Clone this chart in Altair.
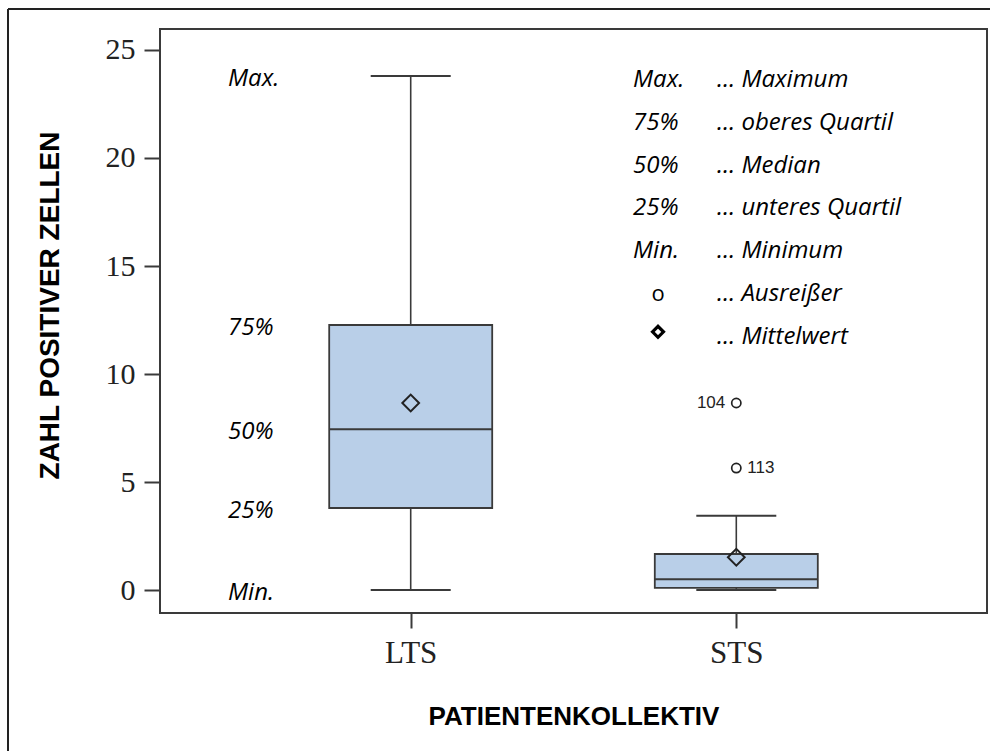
import altair as alt
import pandas as pd

# Group statistics (number of positive cells)
groups = ["LTS", "STS"]
minimum = [0.0, 0.0]
q1 = [3.8, 0.1]
median = [7.45, 0.5]
q3 = [12.27, 1.67]
maximum = [23.8, 3.44]
mean = [8.66, 1.52]

# Outliers of the STS group with patient numbers
outlier_group = ["STS", "STS"]
outlier_id = ["104", "113"]
outlier_value = [8.66, 5.65]

# Annotation keys next to the LTS box and the explanation list
ann_keys = ["Max.", "75%", "50%", "25%", "Min."]
legend_keys = ["Max.", "75%", "50%", "25%", "Min.", "", ""]
legend_desc = ["… Maximum", "… oberes Quartil", "… Median", "… unteres Quartil",
               "… Minimum", "… Ausreißer", "… Mittelwert"]

stats = pd.DataFrame({"group": groups, "min": minimum, "q1": q1, "median": median,
                      "q3": q3, "max": maximum, "mean": mean})
outliers = pd.DataFrame({"group": outlier_group, "id": outlier_id, "value": outlier_value})
ann = pd.DataFrame({"key": ann_keys,
                    "value": [maximum[0], q3[0], median[0], q1[0], minimum[0]]})
legend = pd.DataFrame({"row": list(range(len(legend_desc))), "key": legend_keys,
                       "desc": legend_desc})

DARK = "#3a3a3a"
BOX_FILL = "#b9cfe8"
SERIF = "Liberation Serif"
SANS = "Liberation Sans"
ITALIC = "Open Sans"
ITALIC_SIZE = 24

x_enc = alt.X(
    "group:N",
    scale=alt.Scale(type="point", domain=groups, padding=0.77),
    axis=alt.Axis(
        title="PATIENTENKOLLEKTIV", titleFont=SANS, titleFontSize=26, titleFontWeight="bold",
        titleColor="black", titlePadding=35,
        labelFont=SERIF, labelFontSize=31, labelColor="#222", labelPadding=10, labelAngle=0,
        tickSize=15, tickColor=DARK, tickWidth=2, domain=False, grid=False,
    ),
)
y_scale = alt.Scale(domain=[-1.06, 25.97], nice=False, zero=False)
y_axis = alt.Axis(
    title="ZAHL POSITIVER ZELLEN", titleFont=SANS, titleFontSize=28, titleFontWeight="bold",
    titleColor="black", titlePadding=41, titleY=276,
    values=[0, 5, 10, 15, 20, 25], labelFont=SERIF, labelFontSize=30, labelColor="#222",
    labelPadding=9, tickSize=16, tickColor=DARK, tickWidth=2, domain=False, grid=False,
)

base = alt.Chart(stats)

whisker_low = base.mark_rule(color=DARK, strokeWidth=1.6).encode(
    x=x_enc, y=alt.Y("min:Q", scale=y_scale, axis=y_axis), y2="q1:Q")
whisker_high = base.mark_rule(color=DARK, strokeWidth=1.6).encode(
    x=x_enc, y=alt.Y("q3:Q", scale=y_scale, axis=y_axis), y2="max:Q")
box = base.mark_bar(size=163, color=BOX_FILL, stroke=DARK, strokeWidth=1.8).encode(
    x=x_enc, y=alt.Y("q1:Q", scale=y_scale, axis=y_axis), y2="q3:Q")
median_tick = base.mark_tick(size=163, thickness=2, color=DARK, opacity=1).encode(
    x=x_enc, y=alt.Y("median:Q", scale=y_scale, axis=y_axis))
cap_low = base.mark_tick(size=80, thickness=2, color=DARK, opacity=1).encode(
    x=x_enc, y=alt.Y("min:Q", scale=y_scale, axis=y_axis))
cap_high = base.mark_tick(size=80, thickness=2, color=DARK, opacity=1).encode(
    x=x_enc, y=alt.Y("max:Q", scale=y_scale, axis=y_axis))
mean_pt = base.mark_point(shape="diamond", size=280, filled=False, color="#222",
                          strokeWidth=2, opacity=1).encode(
    x=x_enc, y=alt.Y("mean:Q", scale=y_scale, axis=y_axis))

out_base = alt.Chart(outliers)
out_pts = out_base.mark_point(shape="circle", size=85, filled=False, color="#222",
                              strokeWidth=1.7, opacity=1).encode(
    x=x_enc, y=alt.Y("value:Q", scale=y_scale, axis=y_axis))
out_left = out_base.transform_filter(alt.datum.id == "104").mark_text(
    align="right", baseline="middle", dx=-11, font=SANS, fontSize=17, color="#222").encode(
    x=x_enc, y=alt.Y("value:Q", scale=y_scale, axis=y_axis), text="id:N")
out_right = out_base.transform_filter(alt.datum.id == "113").mark_text(
    align="left", baseline="middle", dx=11, font=SANS, fontSize=17, color="#222").encode(
    x=x_enc, y=alt.Y("value:Q", scale=y_scale, axis=y_axis), text="id:N")

ann_text = alt.Chart(ann).mark_text(
    align="left", baseline="middle", dy=3, font=ITALIC, fontStyle="italic",
    fontSize=ITALIC_SIZE, color="black").encode(
    x=alt.value(68), y=alt.Y("value:Q", scale=y_scale, axis=y_axis), text="key:N")

leg_base = alt.Chart(legend).transform_calculate(py="51 + 42.8 * datum.row")
leg_keys = leg_base.mark_text(
    align="left", baseline="middle", font=ITALIC, fontStyle="italic", fontSize=ITALIC_SIZE,
    color="black").encode(
    x=alt.value(473), y=alt.Y("py:Q", scale=None), text="key:N")
leg_desc = leg_base.mark_text(
    align="left", baseline="middle", font=ITALIC, fontStyle="italic", fontSize=ITALIC_SIZE,
    color="black").encode(
    x=alt.value(557), y=alt.Y("py:Q", scale=None), text="desc:N")
leg_circle = leg_base.transform_filter(alt.datum.row == 5).mark_text(
    align="center", baseline="middle", font=ITALIC, fontSize=22, text="o",
    color="black").encode(x=alt.value(498), y=alt.Y("py:Q", scale=None))
leg_diamond = leg_base.transform_filter(alt.datum.row == 6).mark_point(
    shape="diamond", size=120, filled=False, color="black", strokeWidth=3.2,
    opacity=1).encode(
    x=alt.value(498), y=alt.Y("py:Q", scale=None), yOffset=alt.value(-5))

# Frame lines around the figure (top and left edges)
frame_top = alt.Chart(stats).mark_rule(color="#222", strokeWidth=2).encode(
    x=alt.value(-152), x2=alt.value(835), y=alt.value(-20))
frame_left = alt.Chart(stats).mark_rule(color="#222", strokeWidth=2).encode(
    x=alt.value(-152), y=alt.value(-20), y2=alt.value(730))

chart = alt.layer(
    whisker_low, whisker_high, box, median_tick, cap_low, cap_high, mean_pt,
    out_pts, out_left, out_right, ann_text,
    leg_keys, leg_desc, leg_circle, leg_diamond, frame_top, frame_left,
).properties(
    width=827, height=584,
    autosize=alt.AutoSizeParams(type="none"),
    padding={"left": 160, "top": 29, "right": 3, "bottom": 138},
    background="white",
).configure_view(stroke=DARK, strokeWidth=2)

chart.save("out.html", embed_options={"renderer": "svg", "actions": False})
